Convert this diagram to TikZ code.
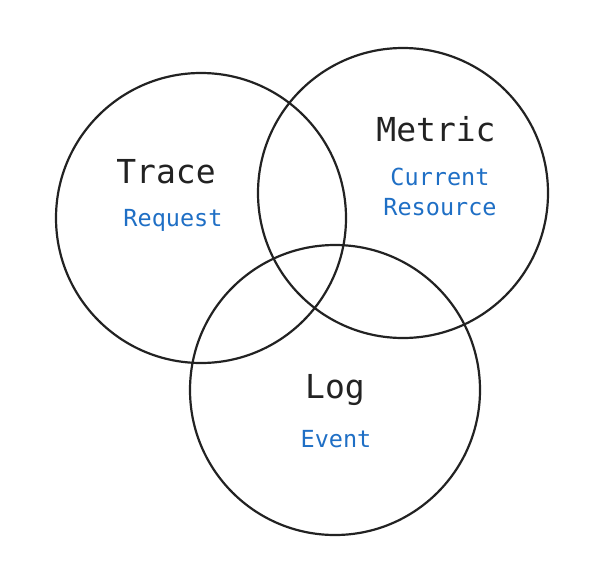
\documentclass[tikz,border=0pt]{standalone}
\usepackage{fontspec}
\setmonofont{DejaVu Sans Mono}
\definecolor{ink}{HTML}{222222}
\definecolor{lbl}{HTML}{1F6FC5}
\begin{document}
\begin{tikzpicture}[x=1pt,y=-1pt,
  ring/.style={draw=ink,line width=2.2pt,circle,minimum size=290pt,inner sep=0pt},
  title/.style={font=\ttfamily\fontsize{33}{36}\selectfont,text=ink,inner sep=0pt},
  sub/.style={font=\ttfamily\fontsize{23.5}{30}\selectfont,text=lbl,inner sep=0pt,align=center}]
\useasboundingbox (0,0) rectangle (612,567);
\node[ring] (trace) at (201,218) {};
\node[ring] (metric) at (403,193) {};
\node[ring] (log) at (335,390) {};
\node[title] (tt) at (166,172) {Trace};
\node[sub] (tr) at (173,220) {Request};
\node[title] (mt) at (436,129) {Metric};
\node[sub] (mr) at (440,192) {Current\\Resource};
\node[title] (lt) at (335,390) {Log};
\node[sub] (lr) at (336,439) {Event};
\end{tikzpicture}
\end{document}
